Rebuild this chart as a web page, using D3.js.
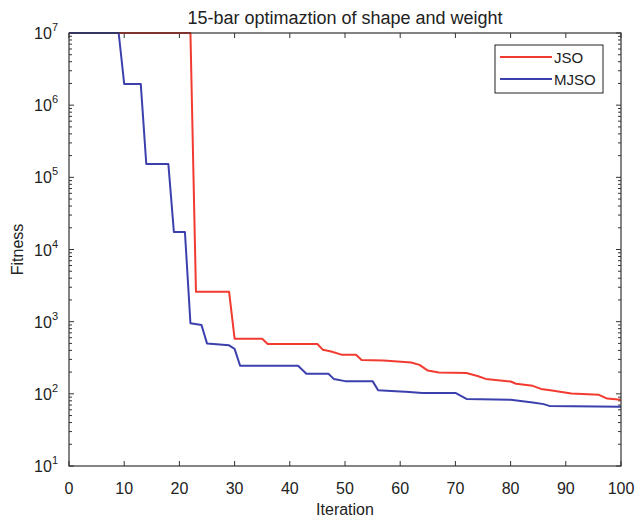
<!DOCTYPE html>
<html>
<head>
<meta charset="utf-8">
<script src="https://cdn.jsdelivr.net/npm/d3@7"></script>
<style>
body { margin: 0; background: #fff; }
text { font-family: "Liberation Sans", Arial, sans-serif; fill: #222; }
</style>
</head>
<body>
<svg id="chart" width="636" height="521"></svg>
<script>
// data (iteration breakpoints and fitness values)
var jsoIter = [0, 22, 23, 29, 30, 35, 36, 45, 46, 47.5, 49.5, 52, 53, 57, 62, 63.5, 65, 67, 72, 74, 75.5, 80, 81, 84, 85.5, 87.5, 91, 96, 97.5, 100];
var jsoFit  = [1e7, 1e7, 2600, 2600, 580, 580, 490, 490, 407, 385, 347, 347, 295, 290, 272, 252, 210, 198, 194, 177, 161, 148, 138, 129, 117, 111, 101, 97, 86, 83];

var mjsoIter = [0, 9, 10, 13, 14, 18, 19, 21, 22, 24, 25, 29, 30, 31, 41.5, 43, 47, 48, 50, 55, 56, 60, 61, 64, 70, 72, 80, 84, 86, 87, 100];
var mjsoFit  = [1e7, 1e7, 1.97e6, 1.97e6, 1.53e5, 1.53e5, 1.75e4, 1.75e4, 950, 900, 500, 470, 420, 245, 245, 190, 190, 160, 150, 150, 112, 108, 107, 103, 103, 85, 83, 76, 72, 68, 66];

var xTicks = [0, 10, 20, 30, 40, 50, 60, 70, 80, 90, 100];
var yExps = [1, 2, 3, 4, 5, 6, 7];

var series = [
    {name: "JSO", color: "#f23b30", iter: jsoIter, fit: jsoFit},
    {name: "MJSO", color: "#3c40ad", iter: mjsoIter, fit: mjsoFit}
];

var margin = {top: 33, right: 15, bottom: 55, left: 69},
    width = 636 - margin.left - margin.right,
    height = 521 - margin.top - margin.bottom;

var svg = d3.select("#chart");
var g = svg.append("g").attr("transform", "translate(" + margin.left + "," + margin.top + ")");

var x = d3.scaleLinear().domain([0, 100]).range([0, width]);
var y = d3.scaleLog().domain([10, 1e7]).range([height, 0]);

var axisColor = "#333";

// minor log ticks
var minor = [];
yExps.slice(0, -1).forEach(function(e) {
    for (var k = 2; k <= 9; k++) minor.push(k * Math.pow(10, e));
});

// ticks inside, left + right
[0, width].forEach(function(xx, side) {
    var dir = side === 0 ? 1 : -1;
    g.selectAll(null).data(yExps).enter().append("line")
        .attr("x1", xx).attr("x2", xx + dir * 5)
        .attr("y1", function(e) { return y(Math.pow(10, e)); })
        .attr("y2", function(e) { return y(Math.pow(10, e)); })
        .attr("stroke", axisColor);
    g.selectAll(null).data(minor).enter().append("line")
        .attr("x1", xx).attr("x2", xx + dir * 3)
        .attr("y1", function(d) { return y(d); })
        .attr("y2", function(d) { return y(d); })
        .attr("stroke", axisColor);
});

// ticks inside, bottom + top
[height, 0].forEach(function(yy, side) {
    var dir = side === 0 ? -1 : 1;
    g.selectAll(null).data(xTicks).enter().append("line")
        .attr("x1", function(d) { return x(d); })
        .attr("x2", function(d) { return x(d); })
        .attr("y1", yy).attr("y2", yy + dir * 5)
        .attr("stroke", axisColor);
});

// x labels
g.selectAll(null).data(xTicks).enter().append("text")
    .attr("x", function(d) { return x(d); })
    .attr("y", height + 28)
    .attr("text-anchor", "middle")
    .attr("font-size", 16)
    .text(function(d) { return d; });

// y labels 10^n
var ylab = g.selectAll(null).data(yExps).enter().append("text")
    .attr("x", -11)
    .attr("y", function(e) { return y(Math.pow(10, e)) + 6; })
    .attr("text-anchor", "end")
    .attr("font-size", 16);
ylab.append("tspan").text("10");
ylab.append("tspan").attr("dy", -8).attr("font-size", 11).text(function(e) { return e; });

// lines
var line = d3.line()
    .x(function(d) { return x(d[0]); })
    .y(function(d) { return y(d[1]); });

series.forEach(function(s) {
    var pts = s.iter.map(function(it, i) { return [it, s.fit[i]]; });
    g.append("path")
        .datum(pts)
        .attr("d", line)
        .attr("fill", "none")
        .attr("stroke", s.color)
        .attr("stroke-width", 2)
        .attr("stroke-linejoin", "round");
});

// box
g.append("rect")
    .attr("width", width).attr("height", height)
    .attr("fill", "none").attr("stroke", axisColor).attr("stroke-width", 1.2);

// legend
var leg = g.append("g").attr("transform", "translate(" + (width - 126) + ",12)");
leg.append("rect").attr("width", 108).attr("height", 48)
    .attr("fill", "#fff").attr("stroke", "#222").attr("stroke-width", 1);
series.forEach(function(s, i) {
    var ly = 12 + i * 22;
    leg.append("line").attr("x1", 5).attr("x2", 57).attr("y1", ly).attr("y2", ly)
        .attr("stroke", s.color).attr("stroke-width", 2);
    leg.append("text").attr("x", 59).attr("y", ly + 6).attr("font-size", 15).text(s.name);
});

// title and axis titles
svg.append("text")
    .attr("x", margin.left + width / 2).attr("y", 24)
    .attr("text-anchor", "middle").attr("font-size", 18)
    .text("15-bar optimaztion of shape and weight");

svg.append("text")
    .attr("x", margin.left + width / 2).attr("y", 515)
    .attr("text-anchor", "middle").attr("font-size", 16)
    .text("Iteration");

svg.append("text")
    .attr("transform", "translate(23," + (margin.top + height / 2) + ") rotate(-90)")
    .attr("text-anchor", "middle").attr("font-size", 16)
    .text("Fitness");
</script>
</body>
</html>
